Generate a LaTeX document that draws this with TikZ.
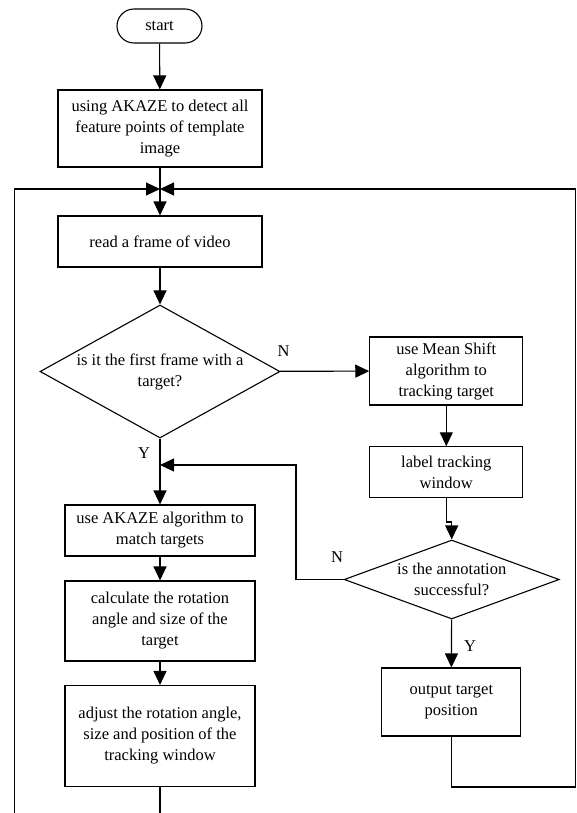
\documentclass[tikz,border=0pt]{standalone}
\usepackage{fontspec}
\setmainfont{Liberation Serif}
\usetikzlibrary{
	arrows.meta,
	calc,
	positioning,
	shapes.geometric,
}
\tikzset{box/.style={draw,rectangle,line width=1.1pt,align=center,inner sep=1pt,font=\fontsize{16.5pt}{21pt}\selectfont,}}
\tikzset{terminal/.style={box,rounded corners=17pt,minimum width=85pt,minimum height=34pt,}}
\tikzset{decision/.style={box,diamond,inner sep=0pt,}}
\tikzset{answer/.style={draw=none,inner sep=1pt,font=\fontsize{16.5pt}{21pt}\selectfont,}}
\tikzset{
	>={Triangle[length=14pt,width=13pt]},
	line width=1.1pt,
}

\begin{document}
\begin{tikzpicture}[x=1pt,y=-1pt,line width=1.1pt]
\useasboundingbox (0,0) rectangle (577,813);
\clip (0,0) rectangle (577,813);
\fill[white] (0,0) rectangle (577,813);

\node[terminal] (start) at (159.5,26) {start};
\node[box,minimum width=204pt,minimum height=77pt] (detect) at (160,128.5) {using AKAZE to detect all\\feature points of template\\image};
\node[box,minimum width=204pt,minimum height=51pt] (read) at (160,241.5) {read a frame of video};
\node[decision,aspect=1.8,minimum width=240pt,minimum height=133pt] (first) at (160,371.5) {is it the first frame with a\\target?};
\node[box,minimum width=153pt,minimum height=68pt] (shift) at (446.3,371) {use Mean Shift\\algorithm to\\tracking target};
\node[box,minimum width=153pt,minimum height=51pt] (window) at (446.3,472.3) {label tracking\\window};
\node[decision,aspect=2.72,minimum width=215pt,minimum height=79pt] (annot) at (451.7,579.5) {is the annotation\\successful?};
\node[box,minimum width=139pt,minimum height=68pt] (output) at (451.3,702) {output target\\position};
\node[box,minimum width=190pt,minimum height=51pt] (match) at (160,530.5) {use AKAZE algorithm to\\match targets};
\node[box,minimum width=190pt,minimum height=80pt] (calc) at (160,621) {calculate the rotation\\angle and size of the\\target};
\node[box,minimum width=190pt,minimum height=101pt] (adjust) at (160,736) {adjust the rotation angle,\\size and position of the\\tracking window};

\coordinate (m1) at (160,189);
\coordinate (m2) at (160,465);
\coordinate (jog) at (451.7,522);
\coordinate (back) at (296,579.5);
\coordinate (lb) at (14.7,830);
\coordinate (rb) at (575.8,787);

\draw[->] (start) -- (detect);
\draw (detect) -- (m1);
\draw[->] (m1) -- (read);
\draw[->] (read) -- (first);

\draw[->] (first) -- node[answer,pos=0,above right=13pt and -4pt] {N} (shift);
\draw (first) -- node[answer,pos=0.55,left=8.5pt] {Y} (m2);
\draw[->] (m2) -- (match);
\draw[->] (match) -- (calc);
\draw[->] (calc) -- (adjust);

\draw[->] (shift) -- (window);
\draw[->] (window) |- (jog) -- (annot);
\draw[->] (annot) -- node[answer,pos=0.55,right=11pt] {Y} (output);
\draw[->] (annot) -- node[answer,pos=0,above left=15pt and -1pt] {N} (back) |- (m2);

\draw[->] (adjust) |- (lb) |- (m1);
\draw[->] (output) |- (rb) |- (m1);
\end{tikzpicture}
\end{document}
